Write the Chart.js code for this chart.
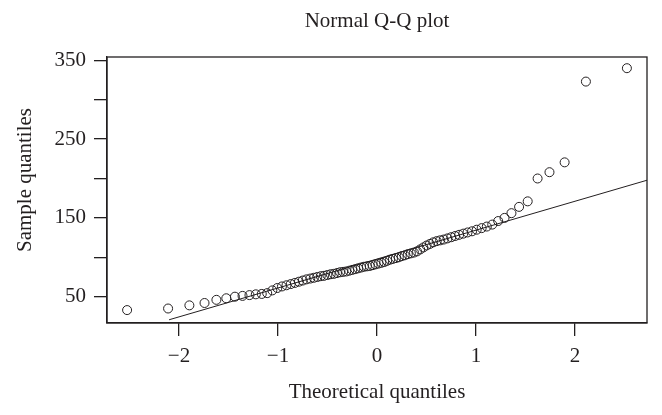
<!DOCTYPE html>
<html>
<head>
<meta charset="utf-8">
<script src="https://cdn.jsdelivr.net/npm/chart.js@4/dist/chart.umd.min.js"></script>
<style>
  html, body { margin: 0; padding: 0; background: #ffffff; }
  #wrap { width: 662px; height: 415px; position: relative; }
</style>
</head>
<body>
<div id="wrap"><canvas id="c" width="662" height="415"></canvas></div>
<script>
// ---- Data ----
const chartTitle = "Normal Q-Q plot";
const xAxisTitle = "Theoretical quantiles";
const yAxisTitle = "Sample quantiles";

// Theoretical normal quantiles (86 points)
const theoretical = [
  -2.524, -2.110, -1.895, -1.742, -1.622, -1.522, -1.435, -1.358, -1.288, -1.224,
  -1.164, -1.109, -1.057, -1.007, -0.960, -0.914, -0.871, -0.829, -0.789, -0.750,
  -0.712, -0.674, -0.638, -0.603, -0.568, -0.535, -0.501, -0.468, -0.436, -0.404,
  -0.373, -0.342, -0.311, -0.280, -0.250, -0.220, -0.191, -0.161, -0.132, -0.102,
  -0.073, -0.044, -0.015,
   0.015,  0.044,  0.073,  0.102,  0.132,  0.161,  0.191,  0.220,  0.250,  0.280,
   0.311,  0.342,  0.373,  0.404,  0.436,  0.468,  0.501,  0.535,  0.568,  0.603,
   0.638,  0.674,  0.712,  0.750,  0.789,  0.829,  0.871,  0.914,  0.960,  1.007,
   1.057,  1.109,  1.164,  1.224,  1.288,  1.358,  1.435,  1.522,  1.622,  1.742,
   1.895,  2.110,  2.524
];

// Sample quantiles (sorted sample values)
const sample = [
   33,   35,   39,   42,   46,   48,   50,   51,   52,   53,
   53.5, 54.5, 58,   61,   63,   64.5, 66,   67.5, 69,   70.5,
   72,   73,   74,   75,   76,   76.5, 77.5, 78.5, 79,   80,
   81,   81.5, 82,   83,   84,   85,   86,   87,   88,   88.5,
   89,   90,   91,
   92,   93,   94,   95.5, 97,   98,   99,  100,  101.5, 102.5,
  104,  105,  106,  107.5, 110, 112.5, 115, 117, 119,  120.5,
  121.5, 122.5, 124, 125.5, 127, 128.5, 130, 131.5, 133, 135,
  137,  139,  141.5, 146, 150, 156, 164, 171, 200, 208,
  220.5, 323, 340
];

// Reference (qq) line end points
const lineX = [-2.10, 2.727];
const lineY = [20.7, 197.8];

// Axis ticks
const xTicks = [-2, -1, 0, 1, 2];
const yTicks = [50, 100, 150, 200, 250, 300, 350];
const yLabelled = [50, 150, 250, 350];

const xRange = [-2.727, 2.727];
const yRange = [16.6, 354.2];

// ---- Chart ----
const INK = '#231f20';
const FONT = '"Liberation Serif", "DejaVu Serif", serif';
const FS = 21;

const boxAndTitles = {
  id: 'boxAndTitles',
  afterDraw(chart) {
    const ctx = chart.ctx;
    const a = chart.chartArea;
    ctx.save();
    ctx.strokeStyle = INK;
    ctx.lineWidth = 1.3;
    ctx.strokeRect(a.left, a.top, a.right - a.left, a.bottom - a.top);
    ctx.fillStyle = INK;
    ctx.font = FS + 'px ' + FONT;
    ctx.textAlign = 'center';
    ctx.textBaseline = 'alphabetic';
    const cx = (a.left + a.right) / 2;
    ctx.fillText(chartTitle, cx, 27);
    ctx.fillText(xAxisTitle, cx, 398);
    ctx.translate(31, 180);
    ctx.rotate(-Math.PI / 2);
    ctx.fillText(yAxisTitle, 0, 0);
    ctx.restore();
  }
};

const points = theoretical.map((x, i) => ({ x: x, y: sample[i] }));
const linePts = lineX.map((x, i) => ({ x: x, y: lineY[i] }));

new Chart(document.getElementById('c'), {
  type: 'scatter',
  data: {
    datasets: [
      {
        label: 'qqline',
        data: linePts,
        showLine: true,
        borderColor: INK,
        borderWidth: 1,
        pointRadius: 0,
        fill: false
      },
      {
        label: 'sample',
        data: points,
        borderColor: INK,
        backgroundColor: 'rgba(0,0,0,0)',
        pointRadius: 4.5,
        pointBorderWidth: 1,
        pointHoverRadius: 4.5
      }
    ]
  },
  options: {
    responsive: false,
    animation: false,
    devicePixelRatio: 1,
    layout: { padding: { top: 57, right: 15, left: 0, bottom: 0 } },
    plugins: {
      legend: { display: false },
      title: { display: false },
      tooltip: { enabled: false }
    },
    scales: {
      x: {
        type: 'linear',
        min: xRange[0],
        max: xRange[1],
        afterBuildTicks(scale) { scale.ticks = xTicks.map(v => ({ value: v })); },
        afterFit(scale) { scale.height = 92; },
        grid: { display: true, drawOnChartArea: false, drawTicks: true, tickLength: 13, color: INK, lineWidth: 1.3 },
        border: { display: true, color: INK, width: 1.3 },
        ticks: {
          color: INK,
          font: { family: FONT, size: FS },
          padding: 8,
          maxRotation: 0,
          callback: v => (v < 0 ? '\u2212' + Math.abs(v) : String(v))
        },
        title: { display: false }
      },
      y: {
        type: 'linear',
        min: yRange[0],
        max: yRange[1],
        afterBuildTicks(scale) { scale.ticks = yTicks.map(v => ({ value: v })); },
        afterFit(scale) { scale.width = 107; },
        grid: { display: true, drawOnChartArea: false, drawTicks: true, tickLength: 13, color: INK, lineWidth: 1.3 },
        border: { display: true, color: INK, width: 1.3 },
        ticks: {
          color: INK,
          font: { family: FONT, size: FS },
          padding: 8,
          callback: v => (yLabelled.includes(v) ? String(v) : '')
        },
        title: { display: false }
      }
    }
  },
  plugins: [boxAndTitles]
});
</script>
</body>
</html>
